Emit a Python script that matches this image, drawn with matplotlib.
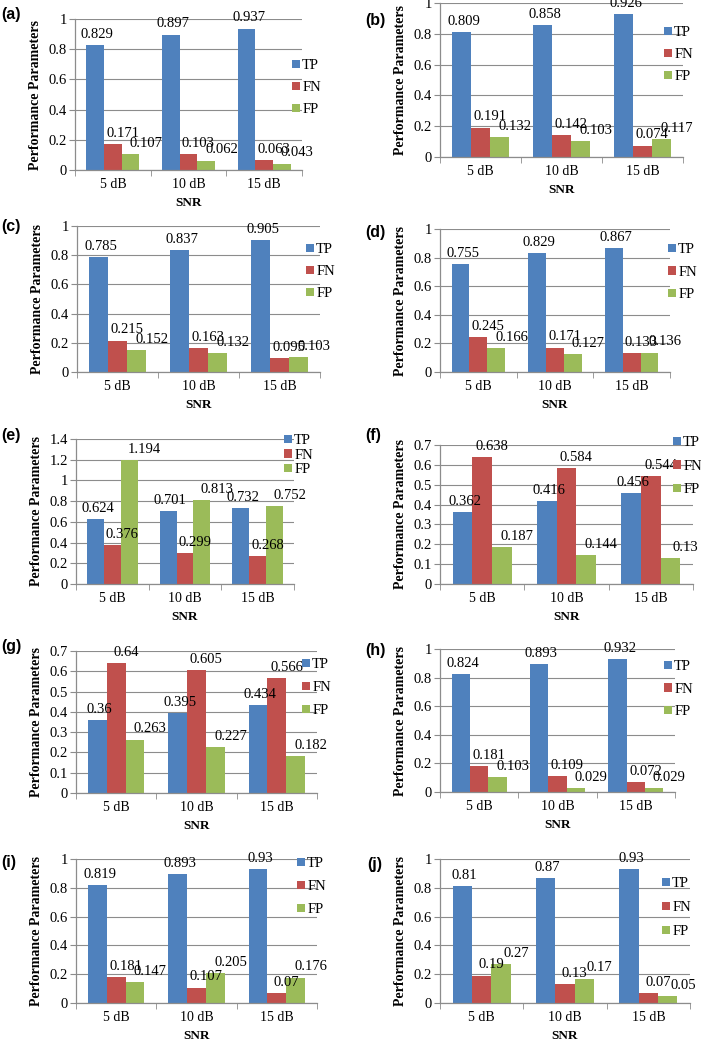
import numpy as np
import matplotlib
matplotlib.use("Agg")
import matplotlib.pyplot as plt
from matplotlib.ticker import MultipleLocator, FuncFormatter

W, H = 701, 1044
plt.rcParams.update({"font.family": "Liberation Serif", "font.size": 10})

snr = ["5 dB", "10 dB", "15 dB"]
series = ["TP", "FN", "FP"]
panel_names = ["(a)", "(b)", "(c)", "(d)", "(e)", "(f)", "(g)", "(h)", "(i)", "(j)"]

tp_a = [0.829, 0.897, 0.937]; fn_a = [0.171, 0.103, 0.063]; fp_a = [0.107, 0.062, 0.043]
tp_b = [0.809, 0.858, 0.926]; fn_b = [0.191, 0.142, 0.074]; fp_b = [0.132, 0.103, 0.117]
tp_c = [0.785, 0.837, 0.905]; fn_c = [0.215, 0.163, 0.095]; fp_c = [0.152, 0.132, 0.103]
tp_d = [0.755, 0.829, 0.867]; fn_d = [0.245, 0.171, 0.133]; fp_d = [0.166, 0.127, 0.136]
tp_e = [0.624, 0.701, 0.732]; fn_e = [0.376, 0.299, 0.268]; fp_e = [1.194, 0.813, 0.752]
tp_f = [0.362, 0.416, 0.456]; fn_f = [0.638, 0.584, 0.544]; fp_f = [0.187, 0.144, 0.13]
tp_g = [0.36, 0.395, 0.434]; fn_g = [0.64, 0.605, 0.566]; fp_g = [0.263, 0.227, 0.182]
tp_h = [0.824, 0.893, 0.932]; fn_h = [0.181, 0.109, 0.072]; fp_h = [0.103, 0.029, 0.029]
tp_i = [0.819, 0.893, 0.93]; fn_i = [0.181, 0.107, 0.07]; fp_i = [0.147, 0.205, 0.176]
tp_j = [0.81, 0.87, 0.93]; fn_j = [0.19, 0.13, 0.07]; fp_j = [0.27, 0.17, 0.05]

panels = [(tp_a, fn_a, fp_a), (tp_b, fn_b, fp_b), (tp_c, fn_c, fp_c), (tp_d, fn_d, fp_d),
          (tp_e, fn_e, fp_e), (tp_f, fn_f, fp_f), (tp_g, fn_g, fp_g), (tp_h, fn_h, fp_h),
          (tp_i, fn_i, fp_i), (tp_j, fn_j, fp_j)]
ymax = [1, 1, 1, 1, 1.4, 0.7, 0.7, 1, 1, 1]
ystep = [0.2, 0.2, 0.2, 0.2, 0.2, 0.1, 0.1, 0.2, 0.2, 0.2]

# layout in pixels: axes (left, top, right, bottom), legend (x, first row y, row pitch), panel tag (x, y)
axbox = [(75, 19, 302, 170), (440, 3, 683, 157), (77, 226, 320, 372), (440, 229, 670, 372),
         (76, 439, 294, 584), (440, 445, 693, 584), (76, 651, 317, 793), (440, 649, 675, 792),
         (76, 859, 317, 1003), (440, 859, 690, 1003)]
legpos = [(292, 68, 23.5), (664, 35, 23.5), (306, 252, 23.5), (668, 252, 24),
          (284, 443, 16), (673, 445, 25), (302, 667, 24.5), (664, 669, 24),
          (297, 866, 24.5), (662, 886, 25.5)]
tagpos = [(1, 15), (365, 20), (1, 227), (365, 232), (1, 435), (365, 435),
          (1, 647), (365, 650), (1, 862), (367, 865)]
lab_dx = [1.5, 7, 11]  # label shift (points) to the right, per series

colors = ["#4F81BD", "#C0504D", "#9BBB59"]
grid_c = "#8C8C8C"
bw = 0.233

fig = plt.figure(figsize=(W / 100, H / 100), dpi=100)
for k, (vals, box, lp, tg) in enumerate(zip(panels, axbox, legpos, tagpos)):
    L, T, R, B = box
    ax = fig.add_axes([L / W, 1 - B / H, (R - L) / W, (B - T) / H])
    x = np.arange(len(snr))
    handles = []
    for s, (v, c) in enumerate(zip(vals, colors)):
        xs = x + (s - 1) * bw
        bars = ax.bar(xs, v, bw, color=c, zorder=2, label=series[s])
        handles.append(bars)
        for xi, vi in zip(xs, v):
            ax.annotate("%g" % vi, (xi, vi), xytext=(lab_dx[s], 3), textcoords="offset points",
                        ha="center", va="bottom", fontsize=10.5, zorder=3)
    ax.set_xlim(-0.5, 2.5)
    ax.set_ylim(0, ymax[k])
    ax.yaxis.set_major_locator(MultipleLocator(ystep[k]))
    ax.yaxis.set_major_formatter(FuncFormatter(lambda v, p: "%g" % round(v, 2)))
    ax.grid(axis="y", color=grid_c, lw=0.8, zorder=0)
    ax.set_axisbelow(True)
    for sp in ["top", "right"]:
        ax.spines[sp].set_visible(False)
    for sp in ["left", "bottom"]:
        ax.spines[sp].set_color(grid_c)
        ax.spines[sp].set_linewidth(0.9)
    ax.set_xticks(x)
    ax.set_xticklabels(snr, fontsize=10)
    ax.set_xticks([-0.5, 0.5, 1.5, 2.5], minor=True)
    ax.tick_params(axis="x", which="major", length=0, pad=6)
    ax.tick_params(axis="x", which="minor", length=4, color=grid_c)
    ax.tick_params(axis="y", length=4, color=grid_c, labelsize=10.5, pad=2)
    ax.set_xlabel("SNR", fontweight="bold", fontsize=9.5, labelpad=4)
    ax.set_ylabel("Performance Parameters", fontweight="bold", fontsize=10)
    ax.yaxis.set_label_coords(-33 / (R - L), 0.5)
    # legend
    lx, ly, pitch = lp
    fs = 10.5
    fspx = fs * 100 / 72
    ls = max(pitch / fspx - 1.0, 0.05)
    fig.legend(handles=handles, labels=series, loc="upper left",
               bbox_to_anchor=(lx / W, 1 - (ly - fspx * 0.6) / H),
               frameon=False, fontsize=fs, handlelength=0.55, handleheight=0.55,
               handletextpad=0.15, labelspacing=ls, borderpad=0, borderaxespad=0)
    fig.text(tg[0] / W, 1 - tg[1] / H, panel_names[k], fontsize=11.5, fontweight="bold",
             family="Liberation Sans", ha="left", va="center")

fig.savefig("out.png", dpi=100, facecolor="white")
